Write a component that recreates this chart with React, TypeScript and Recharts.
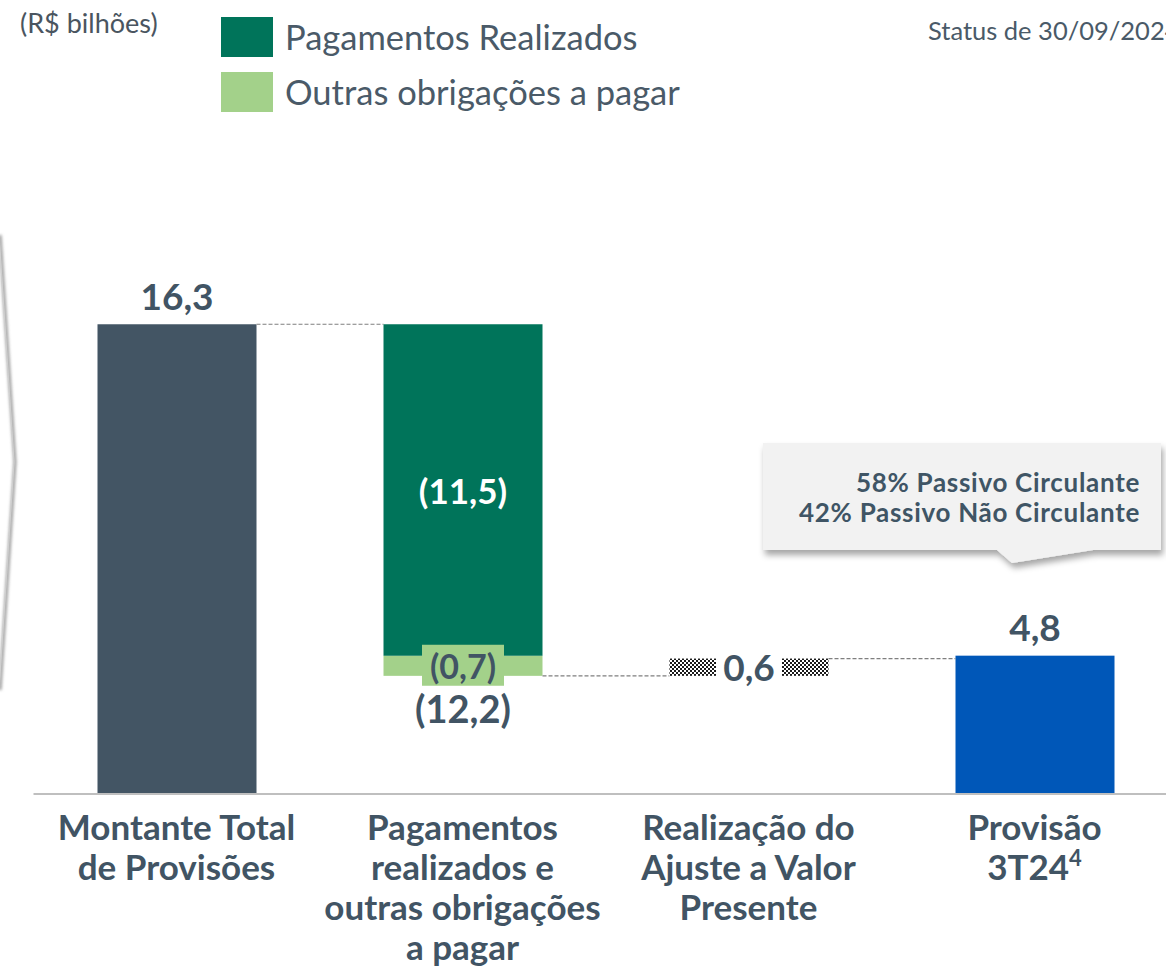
import React from 'react';
import { ComposedChart, Bar, XAxis, YAxis, LabelList, Cell } from 'recharts';

const categories = [
  'Montante Total\nde Provisões',
  'Pagamentos\nrealizados e\noutras obrigações\na pagar',
  'Realização do\nAjuste a Valor\nPresente',
  'Provisão\n3T24',
];
const categoryFootnotes = ['', '', '', '4'];
const totalValues: (number | null)[] = [16.3, null, null, 4.8];
const paymentValues: (number | null)[] = [null, 11.5, null, null];
const otherObligationValues: (number | null)[] = [null, 0.7, null, null];
const adjustmentValues: (number | null)[] = [null, null, 0.6, null];
const totalColors = ['#435564', '', '', '#0057B8'];

const legendItems = [
  { label: 'Pagamentos Realizados', color: '#00745A' },
  { label: 'Outras obrigações a pagar', color: '#A3D18A' },
];
const calloutLines = ['58% Passivo Circulante', '42% Passivo Não Circulante'];
const unitLabel = '(R$ bilhões)';
const statusLabel = 'Status de 30/09/2024';

const TEXT = '#415464';
const FONT = 'Lato, sans-serif';
const BAR_SIZE = 159;
const HALF_GAP = 63.5;

const fmt = (v: number) => v.toFixed(1).replace('.', ',');
const num = (v: any): number | null => {
  if (v == null) return null;
  if (Array.isArray(v)) return v[1] - v[0];
  const n = Number(v);
  return Number.isFinite(n) ? n : null;
};

let level = 0;
const chartData = categories.map((name, i) => {
  const total = totalValues[i];
  const pay = paymentValues[i];
  const other = otherObligationValues[i];
  const adj = adjustmentValues[i];
  let base = 0;
  let net: number | null = null;
  if (total != null) {
    if (level === 0) level = total;
  } else if (pay != null || other != null) {
    net = (pay ?? 0) + (other ?? 0);
    base = level - net;
    level = base;
  } else if (adj != null) {
    base = level;
    level = level + adj;
  }
  return {
    name,
    base,
    total,
    other,
    pay,
    adj,
    net,
    linkRight: i < categories.length - 1,
  };
});

const Connector = ({ x, y }: { x: number; y: number }) => (
  <line x1={x} y1={y} x2={x + HALF_GAP * 2} y2={y} stroke="#7F7F7F" strokeWidth={1.2} strokeDasharray="4 2" />
);

const TotalShape = (props: any) => {
  const { x, y, width, height, fill, payload } = props;
  if (!height) return null;
  return (
    <g>
      <rect x={x} y={y} width={width} height={height} fill={fill} />
      {payload?.linkRight ? <Connector x={x + width} y={y} /> : null}
    </g>
  );
};

const OtherShape = (props: any) => {
  const { x, y, width, height, fill, payload } = props;
  if (!height) return null;
  return (
    <g>
      <rect x={x} y={y} width={width} height={height} fill={fill} />
      {payload?.linkRight ? <Connector x={x + width} y={y + height} /> : null}
    </g>
  );
};

const AdjShape = (props: any) => {
  const { x, y, width, height, fill, payload } = props;
  if (!height) return null;
  return (
    <g>
      <rect x={x} y={y} width={width} height={height} fill={fill} />
      {payload?.linkRight ? <Connector x={x + width} y={y} /> : null}
    </g>
  );
};

const CategoryTick = (props: any) => {
  const { x, y, payload } = props;
  const idx = payload.index;
  const lines = String(payload.value).split('\n');
  const fn = categoryFootnotes[idx];
  return (
    <g>
      <text x={x} y={y} textAnchor="middle" fill={TEXT} fontFamily={FONT} fontWeight={700} fontSize={35}>
        {lines.map((l, i) => (
          <tspan key={i} x={x} dy={i === 0 ? 46 : 40}>
            {l}
            {i === lines.length - 1 && fn ? (
              <tspan dy={-14} fontSize={22}>{fn}</tspan>
            ) : null}
          </tspan>
        ))}
      </text>
    </g>
  );
};

const TotalLabel = (props: any) => {
  const { x, y, width, value } = props;
  const v = num(value);
  if (v == null || !v) return null;
  return (
    <text x={x + width / 2} y={y - 29} textAnchor="middle" dominantBaseline="central" fill={TEXT} fontFamily={FONT} fontWeight={700} fontSize={37}>
      {fmt(v)}
    </text>
  );
};

const PayLabel = (props: any) => {
  const { x, y, width, height, value } = props;
  const v = num(value);
  if (v == null || !v) return null;
  return (
    <text x={x + width / 2} y={y + height / 2} textAnchor="middle" dominantBaseline="central" fill="#ffffff" fontFamily={FONT} fontWeight={700} fontSize={35}>
      {`(${fmt(v)})`}
    </text>
  );
};

const OtherLabel = (props: any) => {
  const { x, y, width, height, value } = props;
  const v = num(value);
  if (v == null || !v) return null;
  const cx = x + width / 2;
  const cy = y + height / 2;
  return (
    <g>
      <rect x={cx - 41} y={cy - 21} width={82} height={41} fill="#A3D18A" />
      <text x={cx} y={cy} textAnchor="middle" dominantBaseline="central" fill={TEXT} fontFamily={FONT} fontWeight={700} fontSize={34}>
        {`(${fmt(v)})`}
      </text>
    </g>
  );
};

const NetLabel = (props: any) => {
  const { x, y, width, height, value } = props;
  const v = num(value);
  if (v == null || !v) return null;
  return (
    <text x={x + width / 2} y={y + height + 32} textAnchor="middle" dominantBaseline="central" fill={TEXT} fontFamily={FONT} fontWeight={700} fontSize={38}>
      {`(${fmt(v)})`}
    </text>
  );
};

const AdjLabel = (props: any) => {
  const { x, y, width, height, value } = props;
  const v = num(value);
  if (v == null || !v) return null;
  const cx = x + width / 2;
  const cy = y + height / 2;
  return (
    <g>
      <rect x={cx - 33} y={cy - 20} width={66} height={40} fill="#ffffff" />
      <text x={cx} y={cy - 1} textAnchor="middle" dominantBaseline="central" fill={TEXT} fontFamily={FONT} fontWeight={700} fontSize={37}>
        {fmt(v)}
      </text>
    </g>
  );
};

export default function App() {
  return (
    <div
      style={{
        position: 'absolute',
        left: 0,
        top: 0,
        width: 1166,
        height: 967,
        overflow: 'hidden',
        background: '#ffffff',
        fontFamily: FONT,
      }}
    >
      <ComposedChart
        width={1180}
        height={967}
        data={chartData}
        margin={{ top: 160, right: 2.5, bottom: 33, left: 33.5 }}
        barCategoryGap={HALF_GAP}
      >
        <defs>
          <pattern id="checker" width="4" height="4" patternUnits="userSpaceOnUse">
            <rect width="4" height="4" fill="#ffffff" />
            <rect width="2" height="2" fill="#1a1a1a" />
            <rect x="2" y="2" width="2" height="2" fill="#1a1a1a" />
          </pattern>
        </defs>
        <XAxis
          dataKey="name"
          height={140}
          axisLine={{ stroke: '#BFBFBF', strokeWidth: 2 }}
          tickLine={false}
          tickSize={0}
          tickMargin={0}
          interval={0}
          tick={<CategoryTick />}
        />
        <YAxis hide domain={[0, 22]} />
        <Bar dataKey="base" stackId="w" fill="transparent" isAnimationActive={false} barSize={BAR_SIZE} />
        <Bar dataKey="total" stackId="w" isAnimationActive={false} barSize={BAR_SIZE} shape={<TotalShape />}>
          {chartData.map((d, i) => (
            <Cell key={i} fill={totalColors[i] || '#435564'} />
          ))}
          <LabelList dataKey="total" content={<TotalLabel />} />
        </Bar>
        <Bar dataKey="other" stackId="w" fill="#A3D18A" isAnimationActive={false} barSize={BAR_SIZE} shape={<OtherShape />}>
          <LabelList dataKey="other" content={<OtherLabel />} />
          <LabelList dataKey="net" content={<NetLabel />} />
        </Bar>
        <Bar dataKey="pay" stackId="w" fill="#00745A" isAnimationActive={false} barSize={BAR_SIZE}>
          <LabelList dataKey="pay" content={<PayLabel />} />
        </Bar>
        <Bar dataKey="adj" stackId="w" fill="url(#checker)" isAnimationActive={false} barSize={BAR_SIZE} shape={<AdjShape />}>
          <LabelList dataKey="adj" content={<AdjLabel />} />
        </Bar>
      </ComposedChart>

      {/* left chevron */}
      <svg style={{ position: 'absolute', left: 0, top: 0 }} width={40} height={967}>
        <defs>
          <filter id="blurShadow" x="-50%" y="-10%" width="200%" height="120%">
            <feGaussianBlur stdDeviation="1.5" />
          </filter>
        </defs>
        <polyline points="0,235 15,462 0,690" fill="none" stroke="#9a9a9a" strokeWidth={3} filter="url(#blurShadow)" />
        <polyline points="-1,235 14,462 -1,690" fill="none" stroke="#d0d0d0" strokeWidth={1} />
      </svg>

      <div style={{ position: 'absolute', left: 20, top: 7, fontSize: 27, lineHeight: '32px', color: '#4A5560', whiteSpace: 'nowrap' }}>
        {unitLabel}
      </div>

      {legendItems.map((it, i) => (
        <div key={i} style={{ position: 'absolute', left: 221, top: 17 + i * 55, display: 'flex', alignItems: 'center', whiteSpace: 'nowrap' }}>
          <div style={{ width: 52, height: 40, background: it.color }} />
          <span style={{ marginLeft: 12, fontSize: 34.5, lineHeight: '40px', color: '#4A5A68' }}>{it.label}</span>
        </div>
      ))}

      <div style={{ position: 'absolute', left: 928, top: 14, fontSize: 25.5, lineHeight: '32px', color: '#4A5A68', whiteSpace: 'nowrap' }}>
        {statusLabel}
      </div>

      {/* callout */}
      <svg style={{ position: 'absolute', left: 750, top: 430 }} width={420} height={150}>
        <defs>
          <filter id="calloutShadow" x="-10%" y="-20%" width="130%" height="150%">
            <feDropShadow dx="2" dy="5" stdDeviation="3" floodColor="#000" floodOpacity="0.35" />
          </filter>
        </defs>
        <path d="M13,13 L411,13 L411,120 L343,120 L262,133 L247,120 L13,120 Z" fill="#F2F2F2" filter="url(#calloutShadow)" />
      </svg>
      <div style={{ position: 'absolute', left: 763, top: 467, width: 377, textAlign: 'right', fontSize: 26, fontWeight: 700, letterSpacing: 0.7, color: '#3F5565', lineHeight: '30px', whiteSpace: 'nowrap' }}>
        {calloutLines.map((l, i) => (
          <div key={i}>{l}</div>
        ))}
      </div>
    </div>
  );
}
